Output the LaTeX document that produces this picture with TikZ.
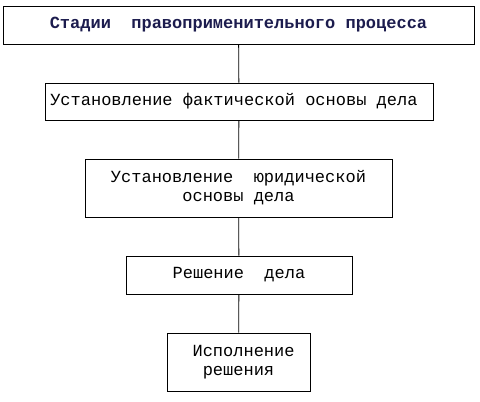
\documentclass[tikz,border=0pt]{standalone}
\usepackage{fontspec}
\setmonofont{Liberation Mono}
\definecolor{titleblue}{HTML}{1C1C4E}
\begin{document}
\begin{tikzpicture}[x=1pt, y=-1pt,
    stage/.style ={rectangle, draw, line width=0.8pt, inner sep=0pt,
      font=\fontsize{17}{19}\selectfont\ttfamily, align=center}]
   \useasboundingbox (0,0) rectangle (480,402);
   \node[stage, minimum width=471, minimum height=38, text=titleblue,
     font=\fontsize{17}{19}\selectfont\ttfamily\bfseries] (S) at (238.5,25)
     {Стадии\ \ правоприменительного процесса};
   \node[stage, minimum width=388, minimum height=37] (F) at (239,101.5)
     {Установление фактической основы дела\hphantom{x}};
   \node[stage, minimum width=307, minimum height=58] (J) at (238.5,188)
     {Установление\ \ юридической\\основы дела};
   \node[stage, minimum width=226, minimum height=38] (R) at (239,275)
     {Решение\ \ дела};
   \node[stage, minimum width=143, minimum height=58] (E) at (238.5,362)
     {\hphantom{x}Исполнение\\решения};

   \draw[line width=0.8pt] (S) to  (F);
   \draw[line width=0.8pt] (F) to  (J);
   \draw[line width=0.8pt] (J) to  (R);
   \draw[line width=0.8pt] (R) to  (E);
\end{tikzpicture}
\end{document}
